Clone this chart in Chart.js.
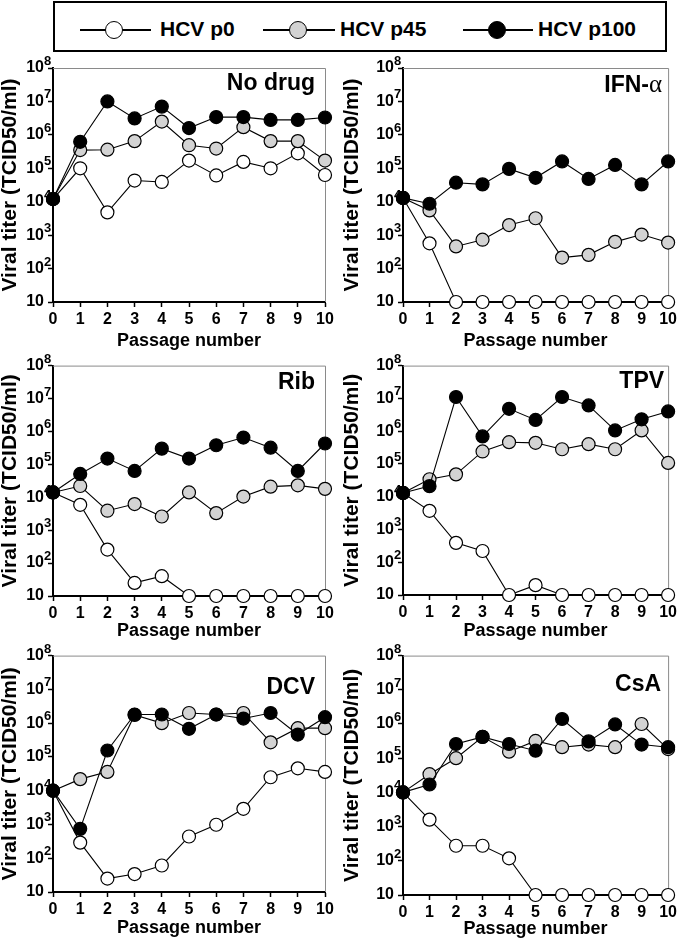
<!DOCTYPE html>
<html>
<head>
<meta charset="utf-8">
<script src="https://cdn.jsdelivr.net/npm/chart.js@4.4.1/dist/chart.umd.min.js"></script>
<style>
  body { margin: 0; background: #fff; width: 680px; height: 945px; position: relative; overflow: hidden;
         font-family: "Liberation Sans", Arial, sans-serif; }
  canvas { position: absolute; }
  #legendBox { position: absolute; left: 53px; top: 1px; width: 610px; height: 47px; border: 2px solid #000; }
  .ln { position: absolute; top: 29px; height: 1.5px; background: #000; }
  .dot { position: absolute; top: 21px; width: 16px; height: 16px; border: 1.5px solid #000; border-radius: 50%; }
  .txt { position: absolute; top: 17px; font-weight: bold; font-size: 21px; line-height: 24px; white-space: nowrap; }
</style>
</head>
<body>
<div id="legendBox"></div>
<div class="ln" style="left:80px;width:71px"></div>
<div class="dot" style="left:105px;background:#fff"></div>
<div class="txt" style="left:160px">HCV p0</div>
<div class="ln" style="left:263px;width:72px"></div>
<div class="dot" style="left:289px;background:#d3d3d3"></div>
<div class="txt" style="left:340px">HCV p45</div>
<div class="ln" style="left:463px;width:70px"></div>
<div class="dot" style="left:488px;background:#000"></div>
<div class="txt" style="left:538px">HCV p100</div>

<canvas id="c0" width="340" height="300"></canvas>
<canvas id="c1" width="340" height="300"></canvas>
<canvas id="c2" width="340" height="290"></canvas>
<canvas id="c3" width="340" height="290"></canvas>
<canvas id="c4" width="340" height="303"></canvas>
<canvas id="c5" width="340" height="303"></canvas>

<script>
"use strict";

const PASSAGES = [0, 1, 2, 3, 4, 5, 6, 7, 8, 9, 10];
const SERIES = ['HCV p0', 'HCV p45', 'HCV p100'];
const Y_TICKS = [10, 1e2, 1e3, 1e4, 1e5, 1e6, 1e7, 1e8];
const PANEL_NAMES = ['No drug', 'IFN-', 'Rib', 'TPV', 'DCV', 'CsA'];

// No drug
const noDrugP0   = [1.2e4, 1.0e5, 4.8e3, 4.3e4, 3.9e4, 1.7e5, 6.1e4, 1.55e5, 1.0e5, 2.8e5, 6.3e4];
const noDrugP45  = [1.2e4, 3.5e5, 3.6e5, 6.5e5, 2.5e6, 4.9e5, 3.9e5, 1.7e6, 6.5e5, 6.5e5, 1.7e5];
const noDrugP100 = [1.2e4, 6.2e5, 1.0e7, 3.1e6, 7.0e6, 1.6e6, 3.4e6, 3.4e6, 2.8e6, 2.8e6, 3.3e6];
// IFN-alpha
const ifnP0   = [1.3e4, 570, 10, 10, 10, 10, 10, 10, 10, 10, 10];
const ifnP45  = [1.3e4, 5.5e3, 460, 730, 2.0e3, 3.2e3, 213, 257, 630, 1.04e3, 600];
const ifnP100 = [1.3e4, 8.7e3, 3.7e4, 3.3e4, 9.6e4, 5.2e4, 1.6e5, 4.8e4, 1.26e5, 3.3e4, 1.6e5];
// Rib
const ribP0   = [1.4e4, 5.9e3, 257, 25, 40, 10, 10, 10, 10, 10, 10];
const ribP45  = [1.4e4, 2.2e4, 3.9e3, 6.2e3, 2.6e3, 1.4e4, 3.3e3, 1.05e4, 2.1e4, 2.3e4, 1.8e4];
const ribP100 = [1.4e4, 5.1e4, 1.5e5, 6.3e4, 3.0e5, 1.5e5, 3.8e5, 6.5e5, 3.2e5, 6.3e4, 4.3e5];
// TPV
const tpvP0   = [1.3e4, 3.7e3, 390, 220, 10, 20, 10, 10, 10, 10, 10];
const tpvP45  = [1.3e4, 3.4e4, 4.8e4, 2.4e5, 4.6e5, 4.4e5, 2.8e5, 4.0e5, 2.8e5, 1.05e6, 1.07e5];
const tpvP100 = [1.3e4, 2.1e4, 1.1e7, 6.9e5, 4.8e6, 2.2e6, 1.1e7, 6.1e6, 1.05e6, 2.3e6, 4.0e6];
// DCV
const dcvP0   = [1.0e4, 290, 25, 34, 61, 440, 980, 2.9e3, 2.5e4, 4.6e4, 3.6e4];
const dcvP45  = [1.0e4, 2.2e4, 3.6e4, 1.75e6, 1.0e6, 2.0e6, 1.8e6, 2.0e6, 2.7e5, 7.1e5, 7.1e5];
const dcvP100 = [1.0e4, 740, 1.55e5, 1.8e6, 1.8e6, 6.8e5, 1.8e6, 1.37e6, 2.0e6, 4.6e5, 1.5e6];
// CsA
const csaP0   = [1.0e4, 1.6e3, 275, 275, 118, 10, 10, 10, 10, 10, 10];
const csaP45  = [1.0e4, 3.4e4, 1.0e5, 4.2e5, 1.55e5, 3.2e5, 2.1e5, 2.5e5, 2.1e5, 1.0e6, 1.85e5];
const csaP100 = [1.0e4, 1.7e4, 2.6e5, 4.2e5, 2.6e5, 1.66e5, 1.4e6, 3.1e5, 9.7e5, 2.5e5, 2.1e5];

const PANEL_DATA = [
    [noDrugP0, noDrugP45, noDrugP100],
    [ifnP0, ifnP45, ifnP100],
    [ribP0, ribP45, ribP100],
    [tpvP0, tpvP45, tpvP100],
    [dcvP0, dcvP45, dcvP100],
    [csaP0, csaP45, csaP100]
];

const FILLS = ['#ffffff', '#d3d3d3', '#000000'];
const FONT = '"Liberation Sans", Arial, sans-serif';

// where each panel sits on the page
const LAYOUT = [
    { left: 0,   top: 52,  padTop: 16, padL: 0, yW: 53, padR: 15, xH: 50, tPad: 0, nameDy: 22, nameR: 10 },
    { left: 340, top: 52,  padTop: 16, padL: 2, yW: 61, padR: 9,  xH: 50, tPad: 0, nameDy: 24, nameR: 6 },
    { left: 0,   top: 352, padTop: 13, padL: 0, yW: 53, padR: 15, xH: 46, tPad: 0, nameDy: 23, nameR: 10 },
    { left: 340, top: 352, padTop: 13, padL: 2, yW: 61, padR: 9,  xH: 47, tPad: 0, nameDy: 22, nameR: 4 },
    { left: 0,   top: 642, padTop: 7,  padL: 0, yW: 53, padR: 15, xH: 53, tPad: 6, nameDy: 38, nameR: 10 },
    { left: 340, top: 642, padTop: 10, padL: 2, yW: 61, padR: 9,  xH: 50, tPad: 5, nameDy: 35, nameR: 7 }
];

const panelDecor = {
    id: 'panelDecor',
    beforeDatasetsDraw(chart) {
        const { ctx, chartArea: a } = chart;
        ctx.save();
        ctx.strokeStyle = '#8a8a8a';
        ctx.lineWidth = 1;
        ctx.beginPath();
        ctx.moveTo(a.left, a.top + 0.5);
        ctx.lineTo(a.right + 0.5, a.top + 0.5);
        ctx.lineTo(a.right + 0.5, a.bottom);
        ctx.stroke();
        ctx.restore();
    },
    afterDraw(chart, args, opts) {
        const { ctx, chartArea: a } = chart;
        const y = chart.scales.y;
        ctx.save();
        ctx.fillStyle = '#000';
        // exponents of the 10^n tick labels
        ctx.font = 'bold 13px ' + FONT;
        ctx.textAlign = 'left';
        ctx.textBaseline = 'alphabetic';
        y.ticks.forEach(function (t) {
            const e = Math.round(Math.log10(t.value));
            if (e < 2) return;
            ctx.fillText(String(e), y.right - 9, y.getPixelForValue(t.value) - 3);
        });
        // panel name, top right
        const bx = a.right - opts.nameR;
        const by = a.top + opts.nameDy;
        let x = bx;
        if (opts.greek) {
            ctx.font = '25px "Liberation Serif", "DejaVu Serif", serif';
            ctx.textAlign = 'right';
            ctx.fillText(opts.greek, x, by);
            x -= ctx.measureText(opts.greek).width;
        }
        ctx.font = 'bold 23px ' + FONT;
        ctx.textAlign = 'right';
        ctx.fillText(opts.name, x, by);
        ctx.restore();
    }
};

PANEL_DATA.forEach(function (series, p) {
    const L = LAYOUT[p];
    const canvas = document.getElementById('c' + p);
    canvas.style.left = L.left + 'px';
    canvas.style.top = L.top + 'px';

    new Chart(canvas.getContext('2d'), {
        type: 'line',
        data: {
            labels: PASSAGES,
            datasets: SERIES.map(function (name, i) {
                return {
                    label: name,
                    data: series[i],
                    order: 3 - i,
                    clip: false,
                    tension: 0,
                    borderColor: '#000',
                    borderWidth: 1.1,
                    pointRadius: 6.5,
                    pointBorderWidth: 1.2,
                    pointBorderColor: '#000',
                    pointBackgroundColor: FILLS[i]
                };
            })
        },
        options: {
            responsive: false,
            animation: false,
            events: [],
            layout: { padding: { top: L.padTop, left: L.padL, right: L.padR, bottom: 0 } },
            scales: {
                x: {
                    type: 'category',
                    offset: false,
                    afterFit: function (s) { s.height = L.xH; },
                    grid: { drawOnChartArea: false, tickLength: 5, tickWidth: 1.5, tickColor: '#000' },
                    border: { color: '#000', width: 2 },
                    ticks: { autoSkip: false, maxRotation: 0, padding: 3, color: '#000',
                             font: { family: FONT, size: 16, weight: 'bold' } },
                    title: { display: true, text: 'Passage number', color: '#000',
                             padding: { top: 0, bottom: L.tPad },
                             font: { family: FONT, size: 18, weight: 'bold', lineHeight: 1.2 } }
                },
                y: {
                    type: 'logarithmic',
                    min: 10,
                    max: 1e8,
                    afterBuildTicks: function (s) { s.ticks = Y_TICKS.map(v => ({ value: v })); },
                    afterFit: function (s) { s.width = L.yW; },
                    grid: { drawOnChartArea: false, tickLength: 5, tickWidth: 1.5, tickColor: '#000' },
                    border: { color: '#000', width: 2 },
                    ticks: { autoSkip: false, padding: 4, color: '#000',
                             callback: function () { return '10'; },
                             font: { family: FONT, size: 16, weight: 'bold' } },
                    title: { display: true, text: 'Viral titer (TCID50/ml)', color: '#000',
                             padding: 0,
                             font: { family: FONT, size: 21, weight: 'bold', lineHeight: 1 } }
                }
            },
            plugins: {
                legend: { display: false },
                tooltip: { enabled: false },
                panelDecor: {
                    name: PANEL_NAMES[p],
                    greek: p === 1 ? 'α' : '',
                    nameDy: L.nameDy,
                    nameR: L.nameR
                }
            }
        },
        plugins: [panelDecor]
    });
});
</script>
</body>
</html>
